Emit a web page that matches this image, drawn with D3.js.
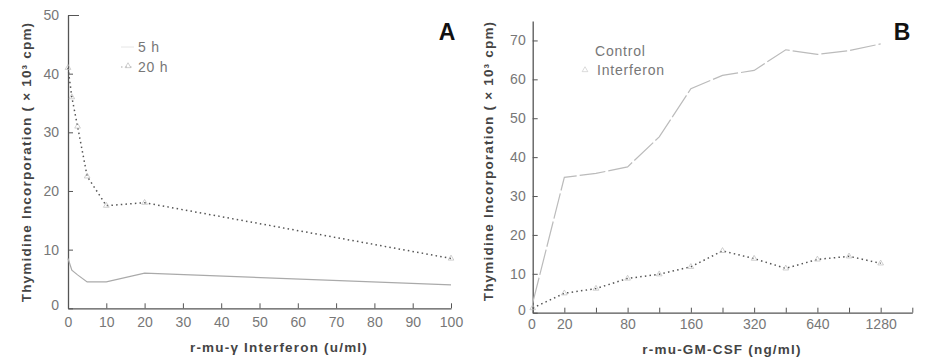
<!DOCTYPE html>
<html lang="en">
<head>
    <meta charset="UTF-8">
    <title>Thymidine Incorporation</title>
    <script src="https://d3js.org/d3.v7.min.js"></script>
    <style>
        body { margin: 0; background: #fff; }
        text { font-family: "Liberation Sans", Arial, sans-serif; }
        .axlabel { font-size: 13.5px; font-weight: bold; letter-spacing: 1.2px; fill: #444; }
        .leg { font-size: 14px; letter-spacing: 0.8px; fill: #777; }
    </style>
</head>
<body>
    <script>
        // panel A: interferon dose response
        const doseA = [0, 1, 2.5, 5, 10, 20, 100];
        const h5 = [8.5, 6.5, 5.7, 4.5, 4.5, 6, 4];
        const h20 = [41, 36, 31, 22.5, 17.5, 18, 8.5];
        const ticksAx = [0, 10, 20, 30, 40, 50, 60, 70, 80, 90, 100];
        const ticksAy = [0, 10, 20, 30, 40, 50];

        // panel B: GM-CSF dose response (plotted on index positions)
        const doseB = [0, 20, 40, 80, 120, 160, 240, 320, 480, 640, 960, 1280];
        const control = [2.5, 34.8, 35.8, 37.5, 45.2, 57.6, 61, 62.3, 67.6, 66.4, 67.4, 69.1];
        const interferon = [1.2, 5, 6.2, 8.8, 9.9, 11.8, 15.9, 13.9, 11.4, 13.7, 14.5, 12.7];
        const labelsB = ["0", "20", "", "80", "", "160", "", "320", "", "640", "", "1280", ""];
        const ticksBy = [0, 10, 20, 30, 40, 50, 60, 70];

        const w = 925, h = 362;
        const svg = d3.select("body").append("svg")
            .attr("width", w).attr("height", h);

        const axisColor = "#555";
        const tickText = "#777";

        function styleAxis(g) {
            g.select(".domain").attr("stroke", axisColor).attr("stroke-width", 1.3);
            g.selectAll(".tick line").attr("stroke", axisColor);
            g.selectAll(".tick text").attr("fill", tickText)
                .style("font-size", "14px")
                .style("font-family", "'Liberation Sans', Arial, sans-serif");
        }

        function triangles(g, pts, x, y, color) {
            g.selectAll(null).data(pts).enter().append("path")
                .attr("d", d3.symbol(d3.symbolTriangle, 14))
                .attr("transform", d => "translate(" + x(d[0]) + "," + y(d[1]) + ")")
                .attr("fill", "none").attr("stroke", color).attr("stroke-width", 0.7);
        }

        // ---------- Panel A ----------
        const xA = d3.scaleLinear().domain([0, 100]).range([68, 451]);
        const yA = d3.scaleLinear().domain([0, 50]).range([308.3, 15]);

        svg.append("g").attr("transform", "translate(0,308.3)")
            .call(d3.axisBottom(xA).tickValues(ticksAx).tickSize(-5).tickPadding(9).tickSizeOuter(0))
            .call(styleAxis);
        svg.append("g").attr("transform", "translate(68,0)")
            .call(d3.axisLeft(yA).tickValues(ticksAy).tickSize(-5).tickPadding(9).tickSizeOuter(0))
            .call(styleAxis)
            .call(g => g.selectAll(".tick").filter(d => d === 50).select("line").attr("x2", 11))
            .call(g => g.selectAll(".tick").filter(d => d === 0).select("text").attr("dy", "0.1em"));

        const lineA = d3.line().x(d => xA(d[0])).y(d => yA(d[1]));
        const p5 = doseA.map((d, i) => [d, h5[i]]);
        const p20 = doseA.map((d, i) => [d, h20[i]]);

        svg.append("path").datum(p5).attr("d", lineA)
            .attr("fill", "none").attr("stroke", "#aaa").attr("stroke-width", 1.2);
        svg.append("path").datum(p20).attr("d", lineA)
            .attr("fill", "none").attr("stroke", "#555").attr("stroke-width", 1.5)
            .attr("stroke-dasharray", "1.5,3.2");
        triangles(svg.append("g"), p20, xA, yA, "#bbb");

        svg.append("text").attr("class", "axlabel")
            .attr("transform", "translate(31,162) rotate(-90)")
            .attr("text-anchor", "middle")
            .text("Thymidine Incorporation ( × 10³ cpm)");
        svg.append("text").attr("class", "axlabel").attr("x", 279).attr("y", 352)
            .attr("text-anchor", "middle")
            .text("r-mu-γ Interferon (u/ml)");
        svg.append("text").attr("x", 447).attr("y", 40)
            .attr("text-anchor", "middle").attr("fill", "#111")
            .style("font-size", "23px").style("font-weight", "bold").text("A");

        // legend A
        svg.append("line").attr("x1", 121).attr("x2", 134).attr("y1", 47).attr("y2", 47)
            .attr("stroke", "#e6e6e6").attr("stroke-width", 1);
        svg.append("line").attr("x1", 121).attr("x2", 134).attr("y1", 67).attr("y2", 67)
            .attr("stroke", "#aaa").attr("stroke-width", 1.2).attr("stroke-dasharray", "1.5,3");
        svg.append("path").attr("d", d3.symbol(d3.symbolTriangle, 14))
            .attr("transform", "translate(128,66)").attr("fill", "none")
            .attr("stroke", "#bbb").attr("stroke-width", 0.7);
        svg.append("text").attr("class", "leg").attr("x", 138).attr("y", 52).text("5 h");
        svg.append("text").attr("class", "leg").attr("x", 138).attr("y", 72).text("20 h");

        // ---------- Panel B ----------
        const xB = d3.scaleLinear().domain([0, 12]).range([532.7, 912.3]);
        const yB = d3.scaleLinear().domain([0, 75]).range([312.7, 21]);

        svg.append("g").attr("transform", "translate(0,312.7)")
            .call(d3.axisBottom(xB).tickValues(d3.range(13)).tickFormat(i => labelsB[i])
                .tickSize(-5).tickPadding(6).tickSizeOuter(0))
            .call(styleAxis)
            .call(g => g.selectAll(".tick").filter(d => d === 0).select("text").attr("dx", "-0.1em"));
        svg.append("g").attr("transform", "translate(532.7,0)")
            .call(d3.axisLeft(yB).tickValues(ticksBy).tickSize(-5).tickPadding(7).tickSizeOuter(0))
            .call(styleAxis)
            .call(g => g.selectAll(".tick").filter(d => d === 0).select("text").attr("dy", "0.1em"));

        const lineB = d3.line().x(d => xB(d[0])).y(d => yB(d[1]));
        const pc = control.map((v, i) => [i, v]);
        const pi = interferon.map((v, i) => [i, v]);

        svg.append("path").datum(pc).attr("d", lineB)
            .attr("fill", "none").attr("stroke", "#bbb").attr("stroke-width", 1.2)
            .attr("stroke-dasharray", "26,3");
        svg.append("path").datum(pi).attr("d", lineB)
            .attr("fill", "none").attr("stroke", "#555").attr("stroke-width", 1.5)
            .attr("stroke-dasharray", "1.5,3.2");
        triangles(svg.append("g"), pi, xB, yB, "#bbb");

        svg.append("text").attr("class", "axlabel")
            .attr("transform", "translate(493,161) rotate(-90)")
            .attr("text-anchor", "middle")
            .text("Thymidine Incorporation ( × 10³ cpm)");
        svg.append("text").attr("class", "axlabel").attr("x", 722).attr("y", 354)
            .attr("text-anchor", "middle")
            .text("r-mu-GM-CSF (ng/ml)");
        svg.append("text").attr("x", 902).attr("y", 40)
            .attr("text-anchor", "middle").attr("fill", "#111")
            .style("font-size", "23px").style("font-weight", "bold").text("B");

        // legend B
        svg.append("path").attr("d", d3.symbol(d3.symbolTriangle, 14))
            .attr("transform", "translate(585,70)").attr("fill", "none")
            .attr("stroke", "#ccc").attr("stroke-width", 0.7);
        svg.append("text").attr("class", "leg").attr("x", 595).attr("y", 56).text("Control");
        svg.append("text").attr("class", "leg").attr("x", 597).attr("y", 75).text("Interferon");
    </script>
</body>
</html>
